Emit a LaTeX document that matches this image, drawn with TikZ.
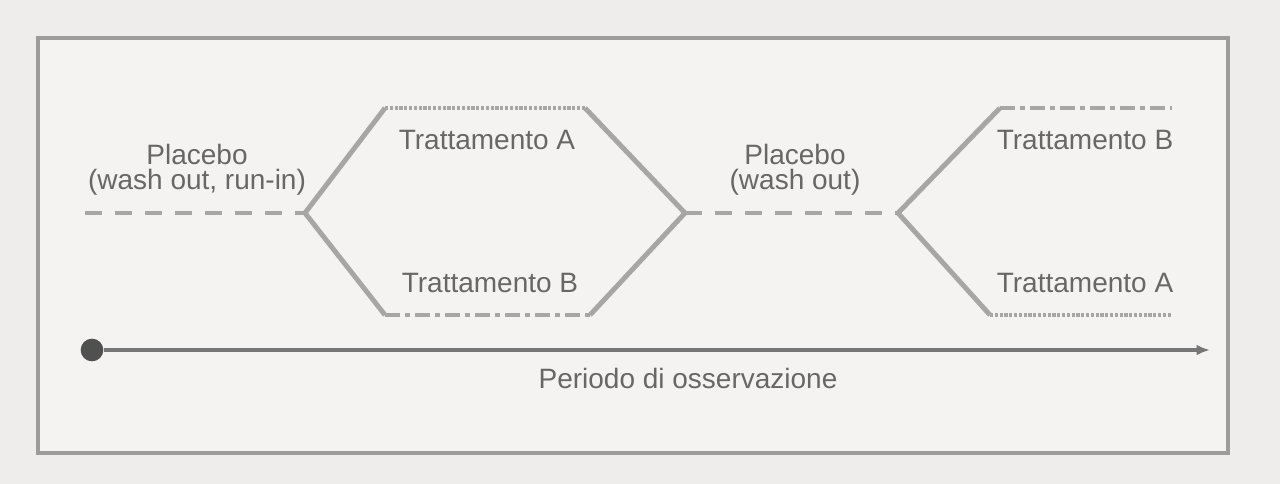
\documentclass[tikz,border=0pt]{standalone}
\usepackage{fontspec}
\setmainfont{Liberation Sans}
\usetikzlibrary{arrows.meta}
\definecolor{bg}{HTML}{EEEDEC}
\definecolor{panel}{HTML}{F4F3F2}
\definecolor{framec}{HTML}{9C9C9C}
\definecolor{linec}{HTML}{A6A6A6}
\definecolor{textc}{HTML}{676767}
\definecolor{axisc}{HTML}{767676}
\definecolor{dotc}{HTML}{505050}
\begin{document}
\begin{tikzpicture}[x=0.75pt,y=-0.75pt,
  lbl/.style={text=textc,font=\fontsize{21}{19}\selectfont,inner sep=0pt,align=center},
  arm/.style={draw=linec,line width=3.7pt},
  fineline/.style={draw=linec,line width=3.7pt,dash pattern=on 2.4pt off 1.2pt},
  ddline/.style={draw=linec,line width=3.7pt,dash pattern=on 11pt off 4pt on 3.5pt off 4pt},
  plc/.style={draw=linec,line width=3.7pt,dash pattern=on 13pt off 9.5pt},
  axis/.style={draw=axisc,line width=2.8pt,-{Latex[length=10pt,width=8pt]}},
  startdot/.style={circle,fill=dotc,inner sep=0pt,minimum size=17pt}]
\fill[bg] (0,0) rectangle (1280,484);
\useasboundingbox (0,0) rectangle (1280,484);
\draw[framec,line width=2.5pt,fill=panel] (38,38) rectangle (1228,453);
% branch coordinates
\coordinate (p1s) at (85,213);
\coordinate (b1) at (305,213);
\coordinate (a1l) at (385,108);
\coordinate (a1r) at (585,108);
\coordinate (c1l) at (385,315);
\coordinate (c1r) at (590,315);
\coordinate (m1) at (685,213);
\coordinate (m2) at (898,213);
\coordinate (a2l) at (1000,108);
\coordinate (a2r) at (1172,108);
\coordinate (c2l) at (990,315);
\coordinate (c2r) at (1172,315);
% placebo segments
\draw[plc] (p1s) -- (b1);
\draw[plc] (m1) -- (m2);
% first period
\draw[arm] (b1) -- (a1l);
\draw[fineline] (a1l) -- (a1r);
\draw[arm] (a1r) -- (m1);
\draw[arm] (b1) -- (c1l);
\draw[ddline] (c1l) -- (c1r);
\draw[arm] (c1r) -- (m1);
% second period
\draw[arm] (m2) -- (a2l);
\draw[ddline] (a2l) -- (a2r);
\draw[arm] (m2) -- (c2l);
\draw[fineline] (c2l) -- (c2r);
% labels
\node[lbl] (pl1) at (197,170) {Placebo\\(wash out, run-in)};
\node[lbl] (ta1) at (487,140) {Trattamento A};
\node[lbl] (tb1) at (490,283) {Trattamento B};
\node[lbl] (pl2) at (795,170) {Placebo\\(wash out)};
\node[lbl] (tb2) at (1085,140) {Trattamento B};
\node[lbl] (ta2) at (1085,283) {Trattamento A};
% time axis
\node[startdot] (start) at (92,350) {};
\coordinate (axend) at (1210,350);
\draw[axis] (start) -- (axend);
\node[lbl] (per) at (688,378) {Periodo di osservazione};
\end{tikzpicture}
\end{document}
